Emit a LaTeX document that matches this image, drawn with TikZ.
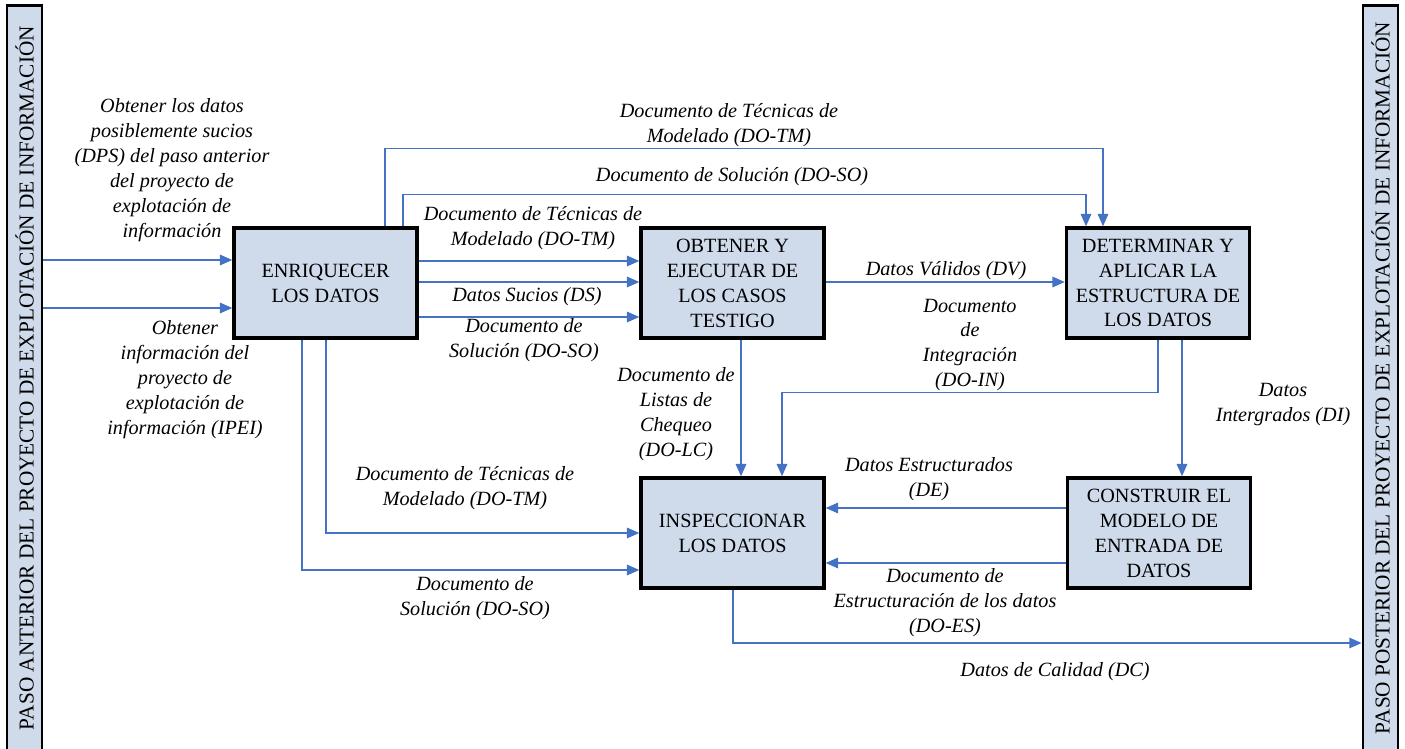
\documentclass[tikz,border=0pt]{standalone}
\usepackage{fontspec}
\setmainfont{Liberation Serif}
\usetikzlibrary{arrows.meta,shadows}
\definecolor{flowblue}{RGB}{68,114,196}
\definecolor{boxfill}{RGB}{207,218,235}
\begin{document}
\begin{tikzpicture}[x=0.02cm,y=-0.02cm,
    every node/.style={font=\fontsize{11.5}{14.2}\selectfont, align=center},
    proc/.style={draw, line width=2pt, fill=boxfill, minimum width=3.66cm, minimum height=2.2cm, inner sep=2pt,
      drop shadow={shadow xshift=0.8pt, shadow yshift=-0.8pt, fill=black!70, opacity=0.8}},
    side/.style={draw, line width=1.6pt, fill=boxfill, rotate=90, minimum width=14.9cm, minimum height=0.7cm, inner sep=0pt,
      font=\fontsize{12.1}{14.2}\selectfont},
    lbl/.style={font=\fontsize{11.5}{14.2}\selectfont\itshape, inner sep=1pt},
    flow/.style={draw=flowblue, line width=0.8pt, -{Triangle[length=7pt,width=6pt]}}]
  \useasboundingbox (0,0) rectangle (1405,749);
  % side bars
  \node[side] (pant) at (24.5,378) {PASO ANTERIOR DEL PROYECTO DE EXPLOTACIÓN DE INFORMACIÓN};
  \node[side] (ppos) at (1380.5,378) {PASO POSTERIOR DEL PROYECTO DE EXPLOTACIÓN DE INFORMACIÓN};
  % processes
  \node[proc] (enr) at (325.5,283) {ENRIQUECER\\LOS DATOS};
  \node[proc] (obt) at (732.5,283) {OBTENER Y\\EJECUTAR DE\\LOS CASOS\\TESTIGO};
  \node[proc] (det) at (1158,283) {DETERMINAR Y\\APLICAR LA\\ESTRUCTURA DE\\LOS DATOS};
  \node[proc] (ins) at (732.5,533) {INSPECCIONAR\\LOS DATOS};
  \node[proc] (con) at (1159,533) {CONSTRUIR EL\\MODELO DE\\ENTRADA DE\\DATOS};
  % labels
  \node[lbl] (ldps) at (172,170) {Obtener los datos\\posiblemente sucios\\(DPS) del paso anterior\\del proyecto de\\explotación de\\información};
  \node[lbl] (lipei) at (185,380) {Obtener\\información del\\proyecto de\\explotación de\\información (IPEI)};
  \node[lbl] (ltma) at (729,125) {Documento de Técnicas de\\Modelado (DO-TM)};
  \node[lbl] (lsoa) at (732,177) {Documento de Solución (DO-SO)};
  \node[lbl] (ltmb) at (533,228) {Documento de Técnicas de\\Modelado (DO-TM)};
  \node[lbl] (lds) at (527,297) {Datos Sucios (DS)};
  \node[lbl] (lsob) at (524,340) {Documento de\\Solución (DO-SO)};
  \node[lbl] (ldv) at (946,271) {Datos Válidos (DV)};
  \node[lbl] (ldoin) at (970,345) {Documento\\de\\Integración\\(DO-IN)};
  \node[lbl] (llc) at (676,414) {Documento de\\Listas de\\Chequeo\\(DO-LC)};
  \node[lbl] (ldi) at (1283,405) {Datos\\Intergrados (DI)};
  \node[lbl] (ltmc) at (465,488) {Documento de Técnicas de\\Modelado (DO-TM)};
  \node[lbl] (lsoc) at (475,598) {Documento de\\Solución (DO-SO)};
  \node[lbl] (lde) at (929,479) {Datos Estructurados\\(DE)};
  \node[lbl] (les) at (945,603) {Documento de\\Estructuración de los datos\\(DO-ES)};
  \node[lbl] (ldc) at (1055,672) {Datos de Calidad (DC)};
  % connectors
  \draw[flow] (pant.south |- 0,260) -- (enr.west |- 0,260);
  \draw[flow] (pant.south |- 0,308) -- (enr.west |- 0,308);
  \draw[flow] (enr.east |- 0,261) -- (obt.west |- 0,261);
  \draw[flow] (enr.east |- 0,282) -- (obt.west |- 0,282);
  \draw[flow] (enr.east |- 0,317) -- (obt.west |- 0,317);
  \draw[flow] (enr.north -| 385,0) -- ++(0,-78) -| (det.north -| 1103,0);
  \draw[flow] (enr.north -| 403,0) -- ++(0,-32) -| (det.north -| 1086,0);
  \draw[flow] (enr.south -| 326,0) |- (ins.west |- 0,533);
  \draw[flow] (enr.south -| 302,0) |- (ins.west |- 0,570);
  \draw[flow] (obt.east |- 0,282) -- (det.west |- 0,282);
  \draw[flow] (obt.south -| 741,0) -- (ins.north -| 741,0);
  \draw[flow] (det.south -| 1158,0) -- ++(0,53) -| (ins.north -| 782,0);
  \draw[flow] (det.south -| 1182,0) -- (con.north -| 1182,0);
  \draw[flow] (con.west |- 0,508) -- (ins.east |- 0,508);
  \draw[flow] (con.west |- 0,563) -- (ins.east |- 0,563);
  \draw[flow] (ins.south -| 733,0) |- (ppos.north |- 0,643);
\end{tikzpicture}
\end{document}
